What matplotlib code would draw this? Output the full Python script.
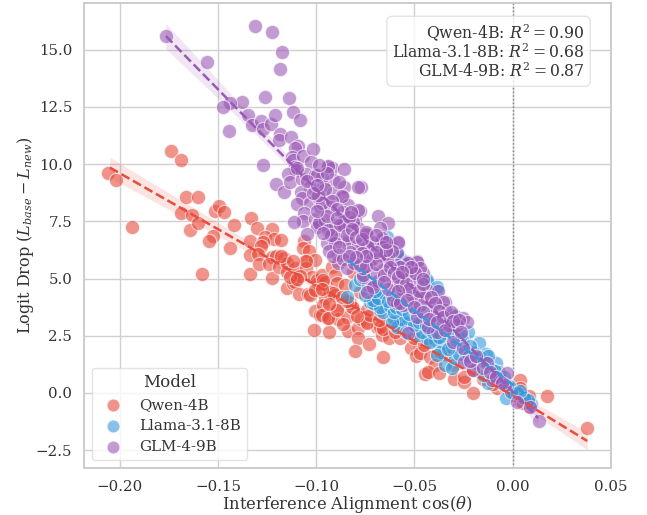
import matplotlib
matplotlib.use("Agg")
import matplotlib.pyplot as plt
import numpy as np
import seaborn as sns

models = ["Qwen-4B", "Llama-3.1-8B", "GLM-4-9B"]
r2_values = [0.90, 0.68, 0.87]
colors = ["#e74c3c", "#3498db", "#9b59b6"]

# values (cos theta, logit drop)
qwen_points = [
    (-0.206, 9.62), (-0.202, 9.3), (-0.174, 10.58), (-0.169, 10.18), (-0.1935, 7.24), (-0.166, 8.55),
    (-0.160, 8.56), (-0.169, 7.85), (-0.163, 7.78), (-0.164, 7.12), (-0.160, 7.44), (-0.1516, 7.95),
    (-0.1494, 8.17), (-0.147, 7.92), (-0.1416, 7.33), (-0.1524, 6.86), (-0.1543, 6.64), (-0.1436, 6.33),
    (-0.133, 7.65), (-0.130, 7.19), (-0.1224, 7.15), (-0.126, 6.83), (-0.1213, 6.71), (-0.1177, 6.70),
    (-0.1338, 6.63), (-0.1272, 6.61), (-0.128, 6.42), (-0.1338, 6.03), (-0.1295, 6.07), (-0.1226, 5.95),
    (-0.1205, 5.98), (-0.1163, 5.9), (-0.1062, 6.65), (-0.1068, 6.33), (-0.1036, 6.22), (-0.1056, 5.78),
    (-0.1006, 5.81), (-0.1582, 5.21), (-0.1338, 5.2), (-0.129, 5.63), (-0.124, 5.62), (-0.1226, 5.04),
    (-0.1188, 5.52), (-0.115, 5.68), (-0.115, 5.3), (-0.1107, 5.46), (-0.115, 4.57), (-0.1119, 4.79),
    (-0.1107, 4.85), (-0.1087, 4.31), (-0.104, 4.31), (-0.1032, 4.28), (-0.1051, 5.45), (-0.1051, 5.78),
    (-0.1022, 5.08), (-0.099, 4.8), (-0.1006, 3.58), (-0.098, 3.41), (-0.1012, 2.74), (-0.0997, 4.94),
    (-0.0972, 5.15), (-0.0955, 4.86), (-0.0921, 5.52), (-0.0904, 5.15), (-0.0892, 4.79), (-0.0853, 4.72),
    (-0.0929, 4.43), (-0.0904, 4.28), (-0.0955, 4.14), (-0.0963, 3.84), (-0.0895, 3.67), (-0.0972, 3.41),
    (-0.0933, 3.26), (-0.0887, 3.22), (-0.0841, 3.31), (-0.0811, 3.7), (-0.0828, 3.92), (-0.0934, 2.66),
    (-0.0836, 2.72), (-0.0785, 2.83), (-0.0772, 3.23), (-0.0785, 2.39), (-0.0729, 2.14), (-0.0743, 3.11),
    (-0.0743, 3.63), (-0.0802, 1.82), (-0.0692, 2.9), (-0.0661, 1.56), (-0.0938, 3.26), (-0.074, 3.04),
    (-0.0666, 2.53), (-0.0628, 2.42), (-0.0573, 2.42), (-0.0519, 1.98), (-0.0493, 1.62), (-0.0471, 1.73),
    (-0.042, 1.59), (-0.0395, 1.22), (-0.0446, 0.83), (-0.0429, 0.9), (-0.0375, 0.89), (-0.0299, 0.61),
    (-0.0248, 0.47), (-0.0248, 0.7), (-0.0202, 0.0), (0.0039, 0.55), (0.0037, 0.22), (0.0037, -0.34),
    (0.0085, -0.12), (0.0085, -0.55), (0.0176, -0.14), (0.0378, -1.54), (-0.0005, 0.06), (-0.0081, 0.2),
    (-0.0895, 3.63), (-0.0912, 4.35), (-0.0965, 4.94), (-0.0812, 5.29), (-0.0819, 3.77), (-0.0675, 2.9),
    (-0.0658, 2.8), (-0.0726, 3.41), (-0.0599, 2.68), (-0.06, 2.95), (-0.05, 2.4), (-0.045, 2.1),
    (-0.035, 1.7), (-0.03, 1.2), (-0.02, 1.0), (-0.015, 0.6), (-0.01, 0.4), (-0.0775, 4.4),
    (-0.0845, 4.0), (-0.087, 4.2), (-0.079, 3.35), (-0.0682, 3.2), (-0.108, 5.1), (-0.1135, 5.05),
    (-0.1095, 5.0), (-0.118, 6.0), (-0.112, 5.75), (-0.1005, 4.5), (-0.097, 4.55), (-0.0935, 3.9),
    (-0.0865, 3.0), (0.0005, -0.1), (0.0055, -0.45), (-0.004, 0.25),
]

llama_points = [
    (-0.0802, 4.72), (-0.0844, 4.21), (-0.0726, 3.99), (-0.0684, 4.14), (-0.0675, 3.63), (-0.07, 3.9),
    (-0.061, 3.31), (-0.0575, 3.25), (-0.0531, 3.04), (-0.059, 2.9), (-0.048, 2.53), (-0.0437, 2.39),
    (-0.0395, 2.32), (-0.0361, 2.17), (-0.0387, 4.5), (-0.0437, 4.86), (-0.0304, 3.41), (-0.0226, 2.65),
    (-0.017, 2.17), (-0.0136, 1.7), (-0.0085, 1.3), (-0.0068, 0.93), (-0.0039, 0.35), (-0.0036, -0.2),
    (0.0092, -0.49), (-0.0344, 1.22), (-0.031, 1.08), (-0.0293, 1.52), (-0.0234, 1.44), (-0.02, 1.8),
    (-0.0124, 0.42), (-0.015, 0.79), (-0.0099, 0.64), (-0.037, 1.8), (-0.0387, 1.66), (-0.042, 2.24),
    (-0.0463, 2.68), (-0.0514, 2.97), (-0.0557, 3.19), (-0.0615, 3.11), (-0.0658, 3.55), (-0.0709, 3.92),
    (-0.0641, 6.83), (-0.0573, 5.9), (-0.0437, 4.94), (-0.0387, 4.62), (-0.0675, 3.77), (-0.0711, 4.06),
    (-0.0685, 4.15), (-0.0751, 4.28), (-0.0565, 5.81), (-0.059, 6.1), (-0.0545, 2.65), (-0.05, 2.95),
    (-0.046, 3.15), (-0.0425, 2.8), (-0.0345, 2.6), (-0.031, 2.0), (-0.0275, 1.7), (-0.026, 2.35),
    (-0.0215, 2.05), (-0.0185, 1.3), (-0.0165, 1.55), (-0.011, 1.05), (-0.0065, 0.6), (-0.002, 0.3),
    (0.002, 0.0), (0.006, -0.2), (0.008, -0.3), (-0.0625, 3.8), (-0.0605, 3.55), (-0.0595, 3.75),
    (-0.0665, 4.4), (-0.0635, 4.0), (-0.0565, 3.65), (-0.0525, 3.45), (-0.0475, 3.1), (-0.044, 2.95),
    (-0.0405, 2.65), (-0.0375, 2.45), (-0.033, 1.9), (-0.029, 2.3), (-0.024, 1.85), (-0.022, 1.6),
    (-0.0145, 1.35), (-0.0125, 1.6), (-0.009, 0.95), (-0.0045, 0.7), (-0.001, 0.05), (0.004, 0.1),
    (-0.0775, 5.0), (-0.0735, 4.7), (-0.07, 4.45), (-0.0615, 4.3), (-0.058, 4.1), (-0.0495, 3.65),
    (-0.045, 3.5), (-0.0405, 3.2), (-0.0355, 3.0), (-0.0305, 2.75), (-0.0265, 2.55),
]

glm_points = [
    (-0.1765, 15.6), (-0.1553, 14.46), (-0.1309, 16.03), (-0.1226, 15.78), (-0.1173, 14.91), (-0.1182, 14.17),
    (-0.1261, 12.92), (-0.1138, 12.9), (-0.1377, 12.7), (-0.1438, 12.68), (-0.1475, 12.51), (-0.1348, 12.13),
    (-0.1328, 11.72), (-0.1445, 11.46), (-0.1279, 11.88), (-0.1269, 11.52), (-0.1229, 11.74), (-0.1211, 12.16),
    (-0.1119, 12.26), (-0.108, 11.93), (-0.1182, 11.31), (-0.1187, 11.05), (-0.1128, 11.18), (-0.127, 9.97),
    (-0.1205, 9.14), (-0.1163, 8.77), (-0.1094, 10.79), (-0.1107, 10.7), (-0.1121, 10.32), (-0.1116, 10.2),
    (-0.1068, 10.37), (-0.1017, 10.66), (-0.1027, 10.08), (-0.1107, 9.89), (-0.1102, 9.75), (-0.1141, 9.57),
    (-0.1133, 9.23), (-0.1073, 9.35), (-0.1051, 9.57), (-0.1006, 9.52), (-0.1031, 9.01), (-0.1077, 8.79),
    (-0.1073, 8.5), (-0.1099, 8.26), (-0.1031, 8.29), (-0.1062, 7.85), (-0.1068, 7.53), (-0.1114, 7.46),
    (-0.1006, 7.6), (-0.0989, 7.38), (-0.0997, 7.24), (-0.1045, 6.95), (-0.098, 8.14), (-0.099, 8.58),
    (-0.0938, 9.89), (-0.0921, 9.82), (-0.0856, 9.77), (-0.0916, 9.3), (-0.0963, 9.09), (-0.0972, 9.45),
    (-0.0773, 8.99), (-0.0858, 9.01), (-0.0912, 8.75), (-0.0862, 8.58), (-0.0836, 8.21), (-0.0777, 7.96),
    (-0.0929, 8.11), (-0.0862, 7.92), (-0.0802, 7.56), (-0.0685, 7.73), (-0.0633, 7.44), (-0.0675, 7.22),
    (-0.0862, 7.26), (-0.0785, 7.19), (-0.0904, 6.76), (-0.0743, 6.9), (-0.0666, 6.68), (-0.0624, 6.47),
    (-0.0585, 6.57), (-0.0726, 6.47), (-0.0777, 6.25), (-0.0844, 6.54), (-0.0946, 6.54), (-0.0955, 7.56),
    (-0.0972, 8.29), (-0.0929, 7.2), (-0.059, 6.1), (-0.0634, 6.03), (-0.0538, 5.74), (-0.0488, 5.78),
    (-0.0488, 5.74), (-0.0532, 5.68), (-0.0456, 5.24), (-0.0505, 5.2), (-0.0539, 5.3), (-0.059, 5.6),
    (-0.0641, 5.81), (-0.0726, 5.8), (-0.0717, 4.72), (-0.076, 5.08), (-0.0683, 4.9), (-0.0609, 4.79),
    (-0.0557, 5.01), (-0.0488, 4.79), (-0.0437, 4.5), (-0.0446, 4.21), (-0.0404, 3.84), (-0.0344, 3.99),
    (-0.0344, 3.63), (-0.0293, 3.38), (-0.0251, 3.29), (-0.0234, 3.11), (-0.0285, 2.97), (-0.0328, 2.97),
    (-0.0387, 2.68), (-0.0429, 2.9), (-0.0488, 3.33), (-0.0531, 2.61), (-0.0557, 3.84), (-0.059, 3.92),
    (-0.0506, 4.14), (-0.0557, 4.4), (-0.0471, 3.84), (-0.0404, 3.41), (-0.0302, 2.24), (-0.0251, 1.95),
    (-0.0248, 1.37), (-0.0203, 1.0), (-0.0132, 1.3), (-0.015, 1.1), (-0.0107, 0.57), (-0.0031, 0.86),
    (-0.0039, 0.35), (0.002, -0.38), (0.0088, -0.6), (0.0134, -1.21), (-0.0904, 7.34), (-0.0862, 7.34),
    (-0.0746, 6.93), (-0.0666, 6.76), (-0.0582, 6.58), (-0.0717, 6.58), (-0.0666, 6.39), (-0.0735, 6.36),
    (-0.0844, 6.68), (-0.0904, 6.83), (-0.0904, 6.54), (-0.0787, 6.47), (-0.0828, 6.17), (-0.0768, 6.1),
    (-0.0717, 5.84), (-0.0675, 6.03), (-0.0573, 5.52), (-0.0471, 5.45), (-0.0497, 5.23), (-0.0658, 5.37),
    (-0.0709, 5.23), (-0.076, 5.16), (-0.076, 5.45), (-0.0887, 5.67), (-0.0887, 6.03), (-0.0709, 4.64),
    (-0.0743, 4.43), (-0.0573, 4.7), (-0.0378, 4.47), (-0.0353, 3.99), (-0.0514, 4.28), (-0.0609, 4.06),
    (-0.0573, 3.92), (-0.0941, 9.9), (-0.1099, 9.83), (-0.0997, 9.52), (-0.0785, 9.01), (-0.0989, 8.65),
    (-0.087, 8.62), (-0.0984, 7.41), (-0.0938, 7.12), (-0.0878, 7.34), (-0.0811, 7.48), (-0.0844, 6.9),
    (-0.0785, 8.0), (-0.0955, 8.9), (-0.092, 8.4), (-0.0895, 8.05), (-0.0945, 7.75), (-0.0895, 7.65),
    (-0.0835, 7.7), (-0.0815, 7.15), (-0.0795, 6.8), (-0.0765, 6.75), (-0.0935, 6.2), (-0.0915, 6.0),
    (-0.0865, 5.85), (-0.0845, 5.45), (-0.0805, 5.7), (-0.0775, 5.6), (-0.0745, 5.55), (-0.0695, 5.65),
    (-0.0655, 5.15), (-0.0625, 5.5), (-0.0605, 5.25), (-0.0585, 5.05), (-0.0545, 4.75), (-0.0525, 4.55),
    (-0.0475, 4.45), (-0.0455, 4.75), (-0.0415, 4.2), (-0.0395, 3.95), (-0.0375, 3.6), (-0.0355, 3.3),
    (-0.0315, 3.55), (-0.0305, 3.15), (-0.0275, 3.2), (-0.0265, 2.65), (-0.0635, 4.55), (-0.0655, 4.85),
    (-0.0585, 4.45), (-0.054, 4.05), (-0.05, 3.75), (-0.0455, 3.55), (-0.0425, 3.25), (-0.0385, 3.1),
    (-0.0345, 2.75), (-0.0455, 5.0), (-0.0515, 5.5), (-0.0565, 5.3), (-0.0615, 6.2), (-0.0645, 6.25),
    (-0.0695, 6.15), (-0.0745, 6.0), (-0.0795, 5.95), (-0.0835, 6.0), (-0.0885, 6.4), (-0.0925, 6.9),
    (-0.0965, 7.0), (-0.0995, 7.95), (-0.1015, 8.75), (-0.0945, 9.6), (-0.0985, 9.95), (-0.1045, 9.25),
    (-0.0995, 9.1), (-0.0885, 9.2), (-0.0825, 7.9), (-0.0745, 7.05), (-0.0695, 6.9), (-0.0645, 6.6),
    (-0.0215, 1.4), (-0.0185, 1.6), (-0.0115, 0.9), (-0.0085, 0.7), (-0.0055, 0.45),
]

# fitted lines and half width of their bands at a few positions
qwen_fit_x = [-0.205, -0.16, -0.11, -0.07, -0.03, 0.0, 0.038]
qwen_fit_y = [9.85, 7.65, 5.2, 3.25, 1.3, -0.1, -2.1]
qwen_band = [0.45, 0.32, 0.18, 0.12, 0.12, 0.2, 0.38]
llama_fit_x = [-0.0838, -0.06, -0.03, 0.0088]
llama_fit_y = [5.8, 4.25, 2.3, -0.2]
llama_band = [0.2, 0.12, 0.08, 0.16]
glm_fit_x = [-0.1765, -0.14, -0.1, -0.06, -0.03, 0.013]
glm_fit_y = [15.6, 12.4, 8.9, 5.4, 2.75, -1.1]
glm_band = [0.55, 0.35, 0.15, 0.1, 0.12, 0.32]

xticks = [-0.20, -0.15, -0.10, -0.05, 0.00, 0.05]
yticks = [-2.5, 0.0, 2.5, 5.0, 7.5, 10.0, 12.5, 15.0]

sns.set_style("whitegrid")
plt.rcParams["font.family"] = "DejaVu Serif"
plt.rcParams["mathtext.fontset"] = "dejavuserif"

fig = plt.figure(figsize=(6.47, 5.15), dpi=100)
ax = fig.add_axes([0.130, 0.0913, 0.815, 0.9027])

point_sets = [qwen_points, llama_points, glm_points]
fits = [
    (qwen_fit_x, qwen_fit_y, qwen_band),
    (llama_fit_x, llama_fit_y, llama_band),
    (glm_fit_x, glm_fit_y, glm_band),
]

for name, pts, c in zip(models, point_sets, colors):
    x, y = zip(*pts)
    ax.scatter(x, y, s=105, color=c, alpha=0.6, edgecolor="white", linewidth=0.8, label=name, zorder=3)

for (fx, fy, band), c in zip(fits, colors):
    fx, fy, band = np.array(fx), np.array(fy), np.array(band)
    ax.fill_between(fx, fy - band, fy + band, color=c, alpha=0.15, linewidth=0, zorder=2)
    ax.plot(fx, fy, color=c, linestyle="--", linewidth=1.8, zorder=4)

ax.axvline(0, color="gray", linestyle=":", linewidth=1, zorder=1)

ax.set_xlim(-0.2181, 0.0503)
ax.set_ylim(-3.28, 17.04)
ax.set_xticks(xticks)
ax.set_yticks(yticks)
ax.set_xticklabels([f"{t:.2f}".replace("-", "\u2212") for t in xticks])
ax.set_yticklabels([f"{t:.1f}".replace("-", "\u2212") for t in yticks])
ax.tick_params(labelsize=10.8, colors="#333333", pad=5)
ax.set_xlabel(r"Interference Alignment $\cos(\theta)$", fontsize=11.8, color="#333333", labelpad=0)
ax.set_ylabel(r"Logit Drop ($L_{base} - L_{new}$)", fontsize=11.5, color="#333333", labelpad=0)

ax.grid(color="#d0d0d0", linewidth=1)
for spine in ax.spines.values():
    spine.set_color("#cccccc")
    spine.set_linewidth(1.4)

leg = ax.legend(title="Model", loc="lower left", fontsize=10.8, title_fontsize=12,
                frameon=True, facecolor="white", framealpha=0.8, edgecolor="#dddddd",
                borderaxespad=0.55, labelspacing=0.45, handletextpad=0.7, markerscale=0.9)
for text in leg.get_texts():
    text.set_color("#333333")
leg.get_title().set_color("#333333")

summary = "\n".join(f"{m}: $R^2 = {r:.2f}$" for m, r in zip(models, r2_values))
ax.text(0.9495, 0.958, summary, transform=ax.transAxes, ha="right", va="top", multialignment="right",
        fontsize=11.3, color="#333333", linespacing=0.98, zorder=6,
        bbox=dict(boxstyle="round,pad=0.35", facecolor="white", alpha=0.8, edgecolor="#dddddd"))

fig.savefig("out.png", dpi=100)
